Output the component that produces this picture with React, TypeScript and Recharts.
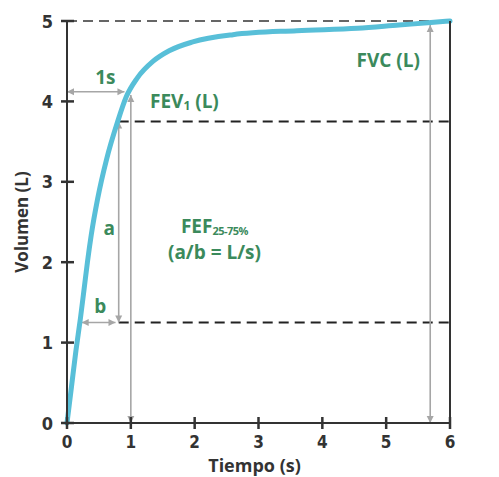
import React from "react"
import { LineChart, Line, XAxis, YAxis, ReferenceLine, ReferenceDot } from "recharts"

// spirometry volume-time curve
const times = [0, 0.07, 0.14, 0.21, 0.27, 0.32, 0.38, 0.48, 0.62, 0.79, 0.93, 1.1, 1.35, 1.6, 1.97, 2.6, 3.6, 4.55, 5.2, 5.7, 6]
const volumes = [0, 0.45, 0.9, 1.3, 1.68, 2.0, 2.34, 2.79, 3.28, 3.74, 4.06, 4.29, 4.5, 4.63, 4.74, 4.83, 4.88, 4.91, 4.95, 4.98, 5]

const xTicks = [0, 1, 2, 3, 4, 5, 6]
const yTicks = [0, 1, 2, 3, 4, 5]
const pctTicks = [0, 25, 50, 75, 100]

// dashed guide levels (FVC, 75 % and 25 % of FVC) and where they start
const dashLevels = [5, 3.75, 1.25]
const dashFrom = [0, 0.81, 0.81]

// double arrows: [t1, v1, t2, v2]
const arrows = [
  [0, 4.12, 0.9, 4.12], // 1s
  [1, 4.08, 1, 0], // FEV1
  [0.81, 3.75, 0.81, 1.25], // a
  [0.23, 1.25, 0.76, 1.25], // b
  [5.69, 4.95, 5.69, 0], // FVC
]

const notes = [
  { key: "1s", t: 0.6, v: 4.3, anchor: "middle" },
  { key: "fev", t: 1.3, v: 4.01, anchor: "start" },
  { key: "fvc", t: 5.53, v: 4.51, anchor: "end" },
  { key: "a", t: 0.66, v: 2.43, anchor: "middle" },
  { key: "b", t: 0.52, v: 1.46, anchor: "middle" },
  { key: "fef", t: 2.31, v: 2.45, anchor: "middle" },
  { key: "ratio", t: 2.31, v: 2.13, anchor: "middle" },
]

const data = times.map((t, i) => ({ t, v: volumes[i] }))

const GREEN = "#3b8a5c"
const GRAY = "#a6a6a6"
const DARK = "#333"
const SANS = "'Open Sans', 'Liberation Sans', sans-serif"
const NARROW = "'Liberation Sans Narrow', 'DejaVu Sans Condensed', sans-serif"

function head(x: number, y: number, a: number) {
  const L = 7, Wd = 3.5
  const bx = x - L * Math.cos(a), by = y - L * Math.sin(a)
  const px = -Math.sin(a) * Wd, py = Math.cos(a) * Wd
  return `${x},${y} ${bx + px},${by + py} ${bx - px},${by - py}`
}

function Arrow(p: any) {
  const { x1, y1, x2, y2 } = p
  const a = Math.atan2(y2 - y1, x2 - x1)
  return (
    <g>
      <line x1={x1} y1={y1} x2={x2} y2={y2} stroke={GRAY} strokeWidth={1.6} />
      <polygon points={head(x2, y2, a)} fill={GRAY} />
      <polygon points={head(x1, y1, a + Math.PI)} fill={GRAY} />
    </g>
  )
}

function Note({ cx, cy, id, anchor }: any) {
  const common = { x: cx, y: cy, textAnchor: anchor, dominantBaseline: "central", fill: GREEN, fontFamily: SANS, fontWeight: 700, fontSize: 19 }
  if (id === "1s") return <text {...common}>1s</text>
  if (id === "a") return <text {...common}>a</text>
  if (id === "b") return <text {...common}>b</text>
  if (id === "fvc") return <text {...common}>FVC (L)</text>
  if (id === "ratio") return <text {...common}>(a/b = L/s)</text>
  if (id === "fev")
    return (
      <text {...common}>
        FEV<tspan fontSize={12} dy={4}>1</tspan>
        <tspan dy={-4}> (L)</tspan>
      </text>
    )
  return (
    <text {...common}>
      FEF<tspan fontSize={11} dy={4} letterSpacing={-0.5}>25-75%</tspan>
    </text>
  )
}

// each tick draws its own cross mark over the axis line
const LeftTick = (p: any) => (
  <g>
    <rect x={p.x - 6} y={p.y - 1.25} width={13} height={2.5} fill={DARK} />
    <text x={p.x - 14} y={p.y} textAnchor="end" dominantBaseline="central" fill={DARK} fontFamily={NARROW} fontWeight={700} fontSize={18}>
      {p.payload.value}
    </text>
  </g>
)

const RightTick = (p: any) => (
  <g>
    <rect x={p.x - 6} y={p.y - 1.25} width={12} height={2.5} fill={DARK} />
    <text x={p.x + 11} y={p.y} textAnchor="start" dominantBaseline="central" fill={DARK} fontFamily={NARROW} fontSize={16} letterSpacing={-0.5}>
      {p.payload.value}%
    </text>
  </g>
)

const BottomTick = (p: any) => (
  <g>
    <rect x={p.x - 1.25} y={p.y - 6} width={2.5} height={12} fill={DARK} />
    <text x={p.x} y={p.y + 19} textAnchor="middle" dominantBaseline="central" fill={DARK} fontFamily={NARROW} fontWeight={700} fontSize={17}>
      {p.payload.value}
    </text>
  </g>
)

const axisStroke = { stroke: DARK, strokeWidth: 2 }

export default function App() {
  return (
    <div style={{ position: "absolute", left: 0, top: 0, background: "#fff" }}>
      <LineChart width={499} height={477} data={data} margin={{ top: 21, right: 0, bottom: 0, left: 0 }}>
        {dashLevels.map((lv, i) => (
          <ReferenceLine
            key={`d${i}`}
            yAxisId="v"
            segment={[{ x: dashFrom[i], y: lv }, { x: 6, y: lv }]}
            stroke={i === 0 ? "#666" : "#222"}
            strokeWidth={2}
            strokeDasharray="10 6"
          />
        ))}
        {arrows.map((a, i) => (
          <ReferenceLine
            key={`a${i}`}
            yAxisId="v"
            segment={[{ x: a[0], y: a[1] }, { x: a[2], y: a[3] }]}
            shape={(p: any) => <Arrow {...p} />}
          />
        ))}
        <Line yAxisId="v" dataKey="v" type="monotone" stroke="#58bfd8" strokeWidth={5} dot={false} isAnimationActive={false} strokeLinecap="round" />
        <XAxis
          dataKey="t"
          type="number"
          domain={[0, 6]}
          ticks={xTicks}
          tick={(p: any) => <BottomTick {...p} />}
          tickLine={false}
          tickSize={0}
          tickMargin={0}
          height={54}
          axisLine={axisStroke}
          label={{
            content: (p: any) => (
              <text x={p.viewBox.x + p.viewBox.width / 2 - 4} y={p.viewBox.y + 42} textAnchor="middle" dominantBaseline="central" fill={DARK} fontFamily={SANS} fontWeight={700} fontSize={18}>
                Tiempo (s)
              </text>
            ),
          }}
        />
        <YAxis
          yAxisId="v"
          domain={[0, 5]}
          ticks={yTicks}
          tick={(p: any) => <LeftTick {...p} />}
          tickLine={false}
          tickSize={0}
          tickMargin={0}
          width={67}
          axisLine={axisStroke}
          label={{
            content: (p: any) => {
              const cx = p.viewBox.x + 21
              const cy = p.viewBox.y + p.viewBox.height / 2
              return (
                <text x={cx} y={cy} transform={`rotate(-90 ${cx} ${cy})`} textAnchor="middle" dominantBaseline="central" fill={DARK} fontFamily={SANS} fontWeight={700} fontSize={17}>
                  Volumen (L)
                </text>
              )
            },
          }}
        />
        <YAxis
          yAxisId="p"
          orientation="right"
          domain={[0, 100]}
          ticks={pctTicks}
          tick={(p: any) => <RightTick {...p} />}
          tickLine={false}
          tickSize={0}
          tickMargin={0}
          width={49}
          axisLine={axisStroke}
        />
        {notes.map((n) => (
          <ReferenceDot
            key={n.key}
            yAxisId="v"
            x={n.t}
            y={n.v}
            r={1}
            shape={(p: any) => <Note cx={p.cx} cy={p.cy} id={n.key} anchor={n.anchor} />}
          />
        ))}
      </LineChart>
    </div>
  )
}
